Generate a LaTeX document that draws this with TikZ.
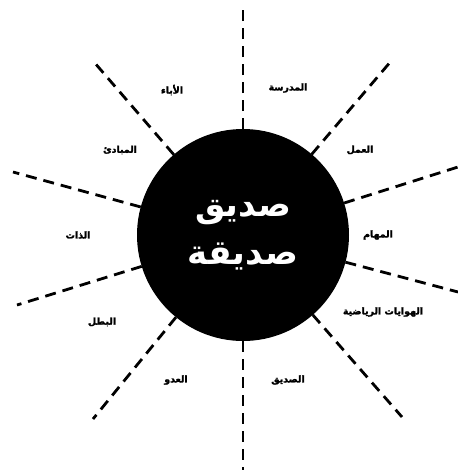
\documentclass[tikz,border=0pt]{standalone}
\usepackage{fontspec}
\newfontfamily\arabicbold[Script=Arabic]{DejaVu Sans Bold}
\newfontfamily\arabicheavy[Script=Arabic,FakeBold=2]{DejaVu Sans Bold}
\TeXXeTstate=1
\tikzset{
  ray/.style={line width=2.8pt, dash pattern=on 11pt off 7pt},
  lbl/.style={font=\arabicheavy\fontsize{9.4}{11}\selectfont, inner sep=0pt},
  hub/.style={circle, fill=black, minimum size=212pt, inner sep=0pt, outer sep=0pt,
    text=white, align=center, font=\arabicbold\fontsize{34}{48}\selectfont}
}
\begin{document}
\begin{tikzpicture}[x=1pt,y=-1pt]
\useasboundingbox (0,0) rectangle (458,475);
\node[hub] (c) at (243,235) {\beginR صديق\endR\\\beginR صديقة\endR};
\coordinate (e1) at (243,5);
\coordinate (e2) at (392,60);
\coordinate (e3) at (458,167);
\coordinate (e4) at (458,292);
\coordinate (e5) at (402,417);
\coordinate (e6) at (243,470);
\coordinate (e7) at (93,419);
\coordinate (e8) at (17,305);
\coordinate (e9) at (13,172);
\coordinate (e10) at (94,62);
\foreach \i in {1,...,10} \draw[ray] (c) -- (e\i);
\node[lbl] (l1) at (172,90) {\beginR الأباء\endR};
\node[lbl] (l2) at (288,88) {\beginR المدرسة\endR};
\node[lbl] (l3) at (120,150) {\beginR المبادئ\endR};
\node[lbl] (l4) at (360,150) {\beginR العمل\endR};
\node[lbl] (l5) at (78,235) {\beginR الذات\endR};
\node[lbl] (l6) at (378,235) {\beginR المهام\endR};
\node[lbl] (l7) at (383,312) {\beginR الهوايات الرياضية\endR};
\node[lbl] (l8) at (102,322) {\beginR البطل\endR};
\node[lbl] (l9) at (176,380) {\beginR العدو\endR};
\node[lbl] (l10) at (288,380) {\beginR الصديق\endR};
\end{tikzpicture}
\end{document}
